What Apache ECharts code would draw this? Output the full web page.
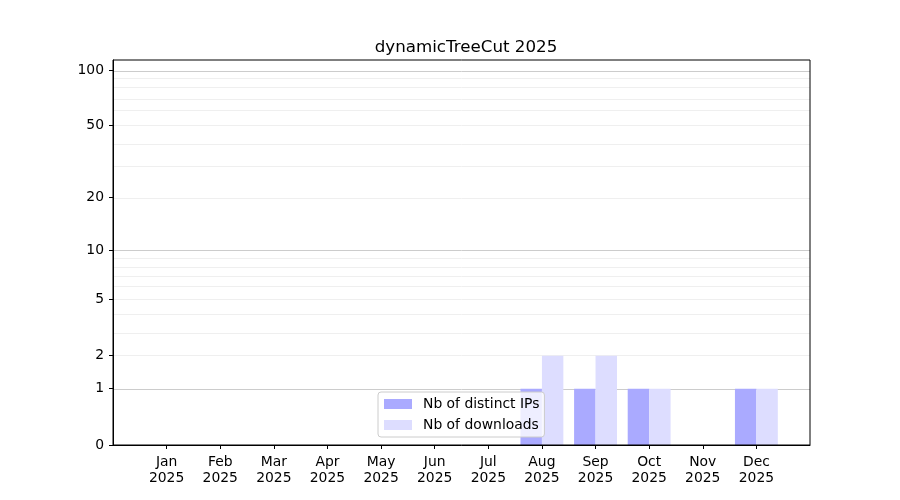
<!DOCTYPE html>
<html>
<head>
<meta charset="utf-8">
<script src="https://cdn.jsdelivr.net/npm/echarts@6/dist/echarts.min.js"></script>
<style>
  html, body { margin: 0; padding: 0; background: #fff; }
  #chart { width: 900px; height: 500px; }
</style>
</head>
<body>
<div id="chart"></div>
<script>
// data
var months = ['Jan', 'Feb', 'Mar', 'Apr', 'May', 'Jun', 'Jul', 'Aug', 'Sep', 'Oct', 'Nov', 'Dec'];
var year = '2025';
var distinctIPs = [0, 0, 0, 0, 0, 0, 0, 1, 1, 1, 0, 1];
var downloads = [0, 0, 0, 0, 0, 0, 0, 2, 2, 1, 0, 1];
var yTicks = [0, 1, 2, 5, 10, 20, 50, 100];
var majorGrid = [1, 10, 100];
var minorGrid = [2, 3, 4, 5, 6, 7, 8, 9, 20, 30, 40, 50, 60, 70, 80, 90];

// y scale is log10(1 + v)
function t(v) { return Math.log10(1 + v); }

// one empty slot on each side, like the matplotlib margins
var cats = [''].concat(months.map(function (m) { return m + '\n' + year; }), ['']);
function pad(arr) { return [null].concat(arr.map(t), [null]); }

var gridLines = [];
majorGrid.forEach(function (v) {
    gridLines.push({ yAxis: t(v), lineStyle: { color: '#cccccc', width: 1, type: 'solid' } });
});
minorGrid.forEach(function (v) {
    gridLines.push({ yAxis: t(v), lineStyle: { color: '#efefef', width: 1, type: 'solid' } });
});

var font = 'DejaVu Sans';
var chart = echarts.init(document.getElementById('chart'), null, { renderer: 'canvas' });

var option = {
    animation: false,
    backgroundColor: '#ffffff',
    textStyle: { fontFamily: font },
    title: {
        text: 'dynamicTreeCut ' + year,
        left: 461,
        top: 34,
        textAlign: 'center',
        textStyle: { fontFamily: font, fontSize: 16.7, fontWeight: 'normal', color: '#000' }
    },
    legend: {
        orient: 'vertical',
        left: 378,
        top: 392,
        padding: [5, 5, 5, 6],
        itemGap: 7,
        itemWidth: 28,
        itemHeight: 10,
        icon: 'rect',
        backgroundColor: 'rgba(255,255,255,0.8)',
        borderColor: '#cccccc',
        borderWidth: 1,
        borderRadius: 3,
        z: 20,
        textStyle: { fontFamily: font, fontSize: 13.9, color: '#000', padding: [0, 0, 0, 6] },
        data: ['Nb of distinct IPs', 'Nb of downloads']
    },
    grid: {
        left: 113,
        right: 90,
        top: 60,
        bottom: 55,
        show: true,
        z: 10,
        borderColor: '#000',
        borderWidth: 1,
        backgroundColor: 'transparent'
    },
    xAxis: {
        type: 'category',
        data: cats,
        boundaryGap: false,
        z: 10,
        axisLine: { show: true, lineStyle: { color: '#000', width: 1 } },
        axisTick: {
            show: true,
            length: 4,
            lineStyle: { color: '#000' },
            interval: function (i) { return i > 0 && i < cats.length - 1; }
        },
        axisLabel: {
            interval: 0,
            margin: 9,
            color: '#000',
            fontFamily: font,
            fontSize: 13.9,
            lineHeight: 16
        },
        splitLine: { show: false }
    },
    yAxis: {
        type: 'value',
        min: 0,
        max: 2.058,
        z: 10,
        axisLine: { show: true, lineStyle: { color: '#000', width: 1 } },
        axisTick: {
            show: true,
            length: 4,
            lineStyle: { color: '#000' },
            customValues: yTicks.map(t)
        },
        axisLabel: {
            margin: 9,
            color: '#000',
            fontFamily: font,
            fontSize: 13.9,
            customValues: yTicks.map(t),
            formatter: function (v) { return String(Math.round(Math.pow(10, v) - 1)); }
        },
        splitLine: { show: false }
    },
    series: [
        {
            name: 'Nb of distinct IPs',
            type: 'bar',
            data: pad(distinctIPs),
            barWidth: '40%',
            barGap: '0%',
            z: 3,
            itemStyle: { color: '#aaaaff' },
            markLine: {
                silent: true,
                symbol: 'none',
                z: 1,
                label: { show: false },
                emphasis: { disabled: true },
                data: gridLines
            }
        },
        {
            name: 'Nb of downloads',
            type: 'bar',
            data: pad(downloads),
            barWidth: '40%',
            barGap: '0%',
            z: 3,
            itemStyle: { color: '#ddddff' }
        }
    ]
};
chart.setOption(option);
</script>
</body>
</html>
